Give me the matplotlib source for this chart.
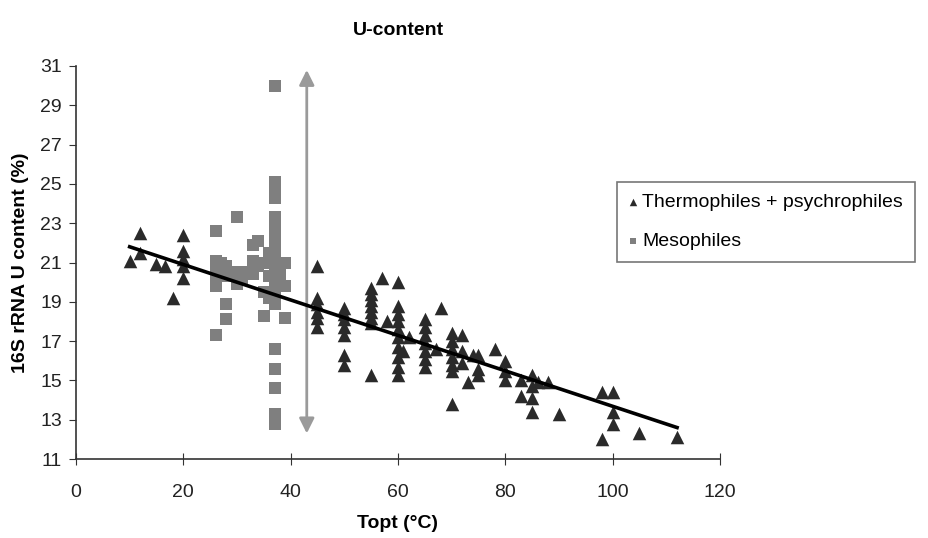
import matplotlib
matplotlib.use("Agg")
import matplotlib.pyplot as plt
import numpy as np

plt.rcParams['font.family'] = ['Liberation Sans', 'DejaVu Sans']

# Thermophiles + psychrophiles (Topt, U content %)
thermo_x = [10, 12, 12, 15, 16.5, 18, 20, 20, 20, 20, 20,
            45, 45, 45, 45, 45, 45,
            50, 50, 50, 50, 50, 50, 50,
            55, 55, 55, 55, 55, 55, 55, 55,
            57, 58,
            60, 60, 60, 60, 60, 60, 60, 60, 60, 60,
            61, 62,
            65, 65, 65, 65, 65, 65, 65,
            67, 68,
            70, 70, 70, 70, 70, 70, 70,
            72, 72, 72, 73, 74, 75, 75, 75, 78,
            80, 80, 80, 83, 83, 85, 85, 85, 85, 86, 88, 90,
            98, 98, 100, 100, 100, 105, 112]
thermo_y = [21.1, 22.5, 21.5, 20.9, 20.8, 19.2, 22.4, 21.6, 21.2, 20.8, 20.2,
            20.8, 19.2, 18.9, 18.5, 18.2, 17.7,
            18.7, 18.4, 18.1, 17.7, 17.3, 16.3, 15.8,
            19.7, 19.4, 19.1, 18.8, 18.5, 18.2, 17.9, 15.3,
            20.2, 18.0,
            20.0, 18.8, 18.4, 18.0, 17.6, 17.2, 16.7, 16.2, 15.7, 15.3,
            16.5, 17.2,
            18.1, 17.7, 17.3, 16.9, 16.5, 16.1, 15.7,
            16.6, 18.7,
            17.4, 17.0, 16.6, 16.2, 15.8, 15.5, 13.8,
            17.3, 16.5, 15.9, 14.9, 16.3, 16.3, 15.6, 15.3, 16.6,
            16.0, 15.5, 15.0, 15.0, 14.2, 15.3, 14.7, 14.1, 13.4, 14.9, 14.9, 13.3,
            14.4, 12.0, 14.4, 13.4, 12.8, 12.3, 12.1]

# Mesophiles
meso_x = [26, 30, 26, 26, 26, 26, 27, 28, 28, 28, 28, 26, 29, 30, 30, 31, 32,
          33, 34, 33, 33, 34, 35, 35, 35, 36,
          37, 37, 37, 37, 37, 37, 37, 37, 37, 37, 37, 37, 37, 37,
          37, 37, 37, 37, 37, 38, 38, 39, 39, 39, 36, 36]
meso_y = [22.6, 23.3, 21.1, 20.7, 20.2, 19.8, 21.0, 20.8, 20.3, 18.9, 18.1, 17.3, 20.5, 20.5, 19.9, 20.2, 20.5,
          21.9, 22.1, 21.1, 20.4, 20.8, 18.3, 21.0, 19.5, 19.2,
          30.0, 25.1, 24.8, 24.3, 23.3, 22.8, 22.3, 21.8, 21.3, 20.8, 20.3, 19.9, 19.5, 18.9,
          16.6, 15.6, 14.6, 13.3, 12.8, 20.6, 20.0, 21.0, 19.8, 18.2, 21.5, 20.3]

# Linear trend line (thermophiles + psychrophiles), as drawn in the reference
trend_x = [10, 112]
trend_y = [21.8, 12.6]

# Mesophile range arrow (Topt, U range)
arrow_x = 43
arrow_y = [12.3, 30.8]

x_ticks = list(range(0, 121, 20))
y_ticks = list(range(11, 32, 2))

fig = plt.figure(figsize=(9.29, 5.38), dpi=100)
ax = fig.add_axes([76/929, 1-459/538, (720-76)/929, (459-66)/538])

ax.scatter(meso_x, meso_y, marker='s', s=72, color='#7f7f7f', linewidths=0,
           label='Mesophiles', zorder=3)
ax.scatter(thermo_x, thermo_y, marker='^', s=95, color='#2a2a2a', linewidths=0,
           label='Thermophiles + psychrophiles', zorder=4)

ax.plot(trend_x, trend_y, color='black', lw=2.6, zorder=5)

ax.annotate('', xy=(arrow_x, arrow_y[1]), xytext=(arrow_x, arrow_y[0]),
            arrowprops=dict(arrowstyle='<|-|>,head_length=0.9,head_width=0.45',
                            color='#9a9a9a', lw=2, shrinkA=0, shrinkB=0), zorder=2)

ax.set_xlim(0, 120)
ax.set_ylim(11, 31)
ax.set_xticks(x_ticks)
ax.set_yticks(y_ticks)
ax.spines['top'].set_visible(False)
ax.spines['right'].set_visible(False)
for s in ['left', 'bottom']:
    ax.spines[s].set_color('#333333')
    ax.spines[s].set_linewidth(1.2)
ax.tick_params(axis='x', direction='inout', length=8, labelsize=14, pad=14, colors='#333333', labelcolor='#222222')
ax.tick_params(axis='y', direction='out', length=5, labelsize=14, pad=5, colors='#333333', labelcolor='#222222')

ax.set_title('U-content', fontsize=14, fontweight='bold', pad=22)
ax.set_xlabel('Topt (°C)', fontsize=14, fontweight='bold', labelpad=10)
ax.set_ylabel('16S rRNA U content (%)', fontsize=14, fontweight='bold', labelpad=8)

handles, labels = ax.get_legend_handles_labels()
leg = fig.legend(handles[::-1], labels[::-1], loc='upper left',
                 bbox_to_anchor=(617/929, 1-182/538), fontsize=14,
                 frameon=True, fancybox=False, edgecolor='#555555',
                 markerscale=0.55, handlelength=0.4, handletextpad=0.3,
                 borderpad=0.6, borderaxespad=0, labelspacing=1.1)
leg.get_frame().set_linewidth(1.2)

fig.savefig('out.png', dpi=100)
